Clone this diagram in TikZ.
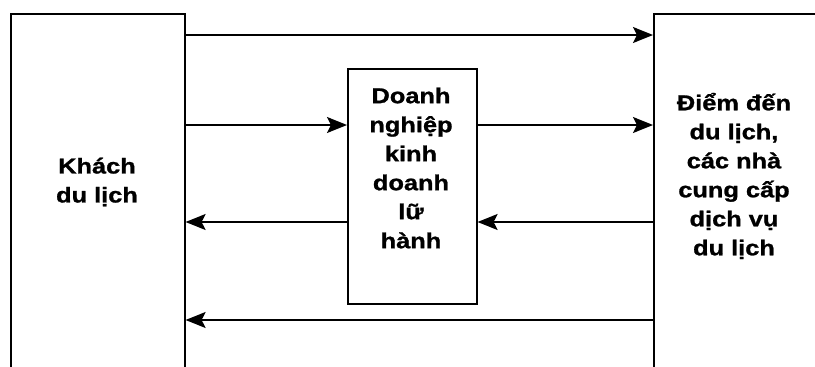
\documentclass[tikz,border=0pt]{standalone}
\usepackage{fontspec}
\setmainfont{Liberation Sans}[FakeStretch=1.18, BoldFeatures={FakeBold=1.2}]
\usetikzlibrary{arrows.meta}
\begin{document}
\begin{tikzpicture}[x=1pt,y=1pt,
  box/.style={draw=black, line width=1.6pt, rectangle, inner sep=0pt, anchor=north west},
  lbl/.style={align=center, inner sep=0pt, font=\bfseries\fontsize{21.5}{29}\selectfont},
  arr/.style={line width=1.6pt, -{Stealth[length=20pt,width=16pt,inset=4pt]}}]
\useasboundingbox (0,0) rectangle (815,-367);
% three blocks: tourists, travel business, destinations/suppliers
\node[box, minimum width=174pt, minimum height=400pt] (L) at (10,-13) {};
\node[box, minimum width=200pt, minimum height=400pt] (R) at (653,-13) {};
\node[box, minimum width=129pt, minimum height=235pt] (M) at (347,-68) {};
\node[lbl] (Lt) at (97,-182) {Khách\\du lịch};
\node[lbl] (Mt) at (411,-168) {Doanh\\nghiệp\\kinh\\doanh\\lữ\\hành};
\node[lbl] (Rt) at (734,-176) {Điểm đến\\du lịch,\\các nhà\\cung cấp\\dịch vụ\\du lịch};
% rows of connectors
\coordinate (y1) at (0,-35);
\coordinate (y2) at (0,-125);
\coordinate (y3) at (0,-222);
\coordinate (y4) at (0,-320);
\draw[arr] (L.east |- y1) -- (R.west |- y1);
\draw[arr] (L.east |- y2) -- (M.west |- y2);
\draw[arr] (M.east |- y2) -- (R.west |- y2);
\draw[arr] (M.west |- y3) -- (L.east |- y3);
\draw[arr] (R.west |- y3) -- (M.east |- y3);
\draw[arr] (R.west |- y4) -- (L.east |- y4);
\end{tikzpicture}
\end{document}
